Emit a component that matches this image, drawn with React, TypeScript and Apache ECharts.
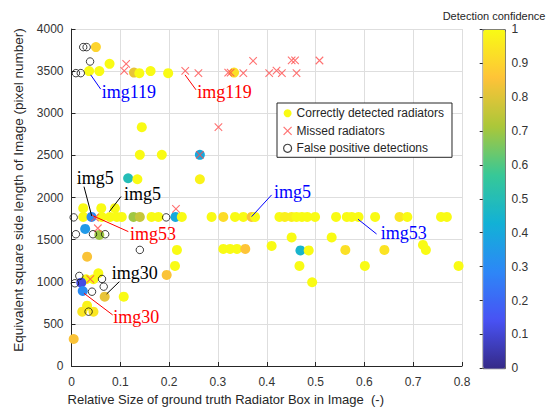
import React, { useEffect, useRef } from "react";
import * as echarts from "echarts";

// [relative size, side length, confidence]
const correctDetections: number[][] = [
  [0.050, 3785, 0.90], [0.036, 3500, 1.0], [0.057, 3500, 1.0], [0.078, 3587, 1.0],
  [0.128, 3483, 0.82], [0.139, 3476, 1.0], [0.162, 3500, 1.0], [0.198, 3476, 1.0],
  [0.333, 3483, 0.93], [0.144, 2835, 1.0], [0.140, 2506, 1.0], [0.185, 2506, 1.0],
  [0.263, 2506, 0.40], [0.263, 2217, 0.98], [0.116, 2229, 0.50], [0.135, 2217, 1.0],
  [0.024, 1873, 1.0], [0.061, 1873, 1.0], [0.089, 1873, 1.0],
  [0.024, 1770, 1.0], [0.041, 1770, 0.30], [0.062, 1770, 1.0], [0.079, 1770, 1.0],
  [0.093, 1770, 1.0], [0.103, 1770, 1.0], [0.127, 1770, 0.70], [0.140, 1770, 0.76],
  [0.164, 1770, 1.0], [0.178, 1770, 1.0], [0.213, 1770, 0.40], [0.226, 1770, 1.0],
  [0.287, 1770, 1.0], [0.311, 1770, 0.92], [0.335, 1770, 1.0], [0.352, 1770, 1.0],
  [0.369, 1770, 0.85], [0.376, 1770, 1.0], [0.426, 1770, 1.0], [0.437, 1770, 0.97],
  [0.451, 1770, 0.97], [0.461, 1770, 1.0], [0.472, 1770, 1.0], [0.483, 1770, 1.0],
  [0.499, 1770, 1.0], [0.542, 1770, 1.0], [0.564, 1770, 1.0], [0.574, 1770, 1.0],
  [0.588, 1770, 1.0], [0.622, 1770, 1.0], [0.672, 1770, 0.95], [0.688, 1770, 1.0],
  [0.757, 1770, 1.0], [0.769, 1770, 1.0],
  [0.028, 1627, 0.35], [0.057, 1556, 0.70], [0.451, 1526, 1.0], [0.533, 1526, 1.0],
  [0.216, 1378, 1.0], [0.311, 1390, 1.0], [0.325, 1390, 1.0], [0.339, 1390, 1.0],
  [0.356, 1390, 0.86], [0.410, 1425, 1.0], [0.469, 1372, 0.45], [0.486, 1372, 1.0],
  [0.561, 1378, 0.93], [0.641, 1378, 0.94], [0.720, 1437, 1.0], [0.726, 1378, 1.0],
  [0.212, 1188, 1.0], [0.467, 1188, 1.0], [0.601, 1188, 1.0], [0.793, 1188, 1.0],
  [0.493, 994, 1.0], [0.032, 1298, 0.85], [0.195, 1081, 0.85], [0.055, 1101, 1.0],
  [0.030, 1030, 1.0], [0.045, 1030, 1.0], [0.020, 989, 0.12], [0.023, 890, 0.30],
  [0.068, 823, 0.82], [0.107, 823, 1.0], [0.032, 716, 0.98], [0.022, 645, 0.95],
  [0.045, 645, 0.95], [0.0045, 321, 0.85],
];

const missedRadiators: number[][] = [
  [0.112, 3587], [0.108, 3503], [0.233, 3503], [0.260, 3476], [0.301, 2835],
  [0.321, 3483], [0.326, 3483], [0.352, 3476], [0.372, 3622], [0.405, 3476],
  [0.420, 3507], [0.431, 3476], [0.451, 3628], [0.458, 3628], [0.461, 3476],
  [0.508, 3626], [0.263, 2506], [0.214, 1865], [0.048, 1761], [0.054, 1635],
  [0.0385, 1030],
];

const falsePositives: number[][] = [
  [0.009, 3476], [0.019, 3476], [0.024, 3785], [0.031, 3785], [0.038, 3614],
  [0.0045, 1764], [0.194, 1764], [0.009, 1564], [0.044, 1564], [0.069, 1564],
  [0.140, 1378], [0.007, 982], [0.016, 1069], [0.042, 882], [0.0625, 1033],
  [0.066, 942], [0.035, 645],
];

const annotationTexts = ["img119", "img119", "img5", "img53", "img5", "img5", "img53", "img30", "img30"];
const annotationColors = ["#0000ff", "#ff0000", "#0000ff", "#0000ff", "#000000", "#000000", "#ff0000", "#000000", "#ff0000"];
const annotationTextAt: number[][] = [
  [0.0619, 3254], [0.2578, 3254], [0.415, 2060], [0.6336, 1576], [0.0107, 2229],
  [0.1076, 2043], [0.1199, 1568], [0.0824, 1101], [0.0857, 576],
];
const annotationLines: number[][][] = [
  [[0.0393, 3456], [0.0598, 3286]],
  [[0.2326, 3456], [0.2551, 3278]],
  [[0.410, 2031], [0.369, 1773]],
  [[0.587, 1742], [0.625, 1567]],
  [[0.0256, 2129], [0.0414, 1781]],
  [[0.1014, 2011], [0.0775, 1832]],
  [[0.0447, 1781], [0.1164, 1595]],
  [[0.098, 1001], [0.072, 855]],
  [[0.0256, 863], [0.0844, 606]],
];

const parula = ["#352a87", "#4852f4", "#2d87f7", "#12b1d6", "#37c897", "#abc739", "#fec338", "#f9fb14"];

const SANS = "Liberation Sans";
const AXIS = "#262626";
const X_PATH = "path://M0,0L10,10M10,0L0,10";

export default function App() {
  const ref = useRef<HTMLDivElement>(null);
  useEffect(() => {
    const chart = echarts.init(ref.current!, null, { renderer: "svg" });
    const option: any = {
      animation: false,
      backgroundColor: "#ffffff",
      title: {
        text: "Detection confidence",
        left: 494,
        top: 10,
        textAlign: "center",
        padding: 0,
        textStyle: { fontSize: 11, fontWeight: "normal", color: AXIS, fontFamily: SANS },
      },
      grid: [
        { left: 71.5, top: 29, width: 390.5, height: 337 },
        { left: 482.7, top: 29.3, width: 22.3, height: 339 },
      ],
      xAxis: [
        {
          gridIndex: 0,
          type: "value",
          min: 0,
          max: 0.8,
          interval: 0.1,
          name: "Relative Size of ground truth Radiator Box in Image  (-)",
          nameLocation: "middle",
          nameGap: 22,
          nameTextStyle: { fontSize: 13, color: AXIS, fontFamily: SANS, padding: [0, 82, 0, 0] },
          axisLine: { show: true, onZero: false, lineStyle: { color: AXIS, width: 1 } },
          axisTick: { show: true, inside: true, length: 4, lineStyle: { color: AXIS } },
          axisLabel: { margin: 10, fontSize: 12, color: "#333", fontFamily: SANS },
          splitLine: { show: true, lineStyle: { color: "#dedede", width: 1 } },
        },
        { gridIndex: 1, type: "value", min: 0, max: 1, show: false },
      ],
      yAxis: [
        {
          gridIndex: 0,
          type: "value",
          min: 0,
          max: 4000,
          interval: 500,
          name: "Equivalent square side length of Image (pixel number)",
          nameLocation: "middle",
          nameGap: 40,
          nameTextStyle: { fontSize: 13.5, color: AXIS, fontFamily: SANS, padding: [0, 0, 0, 15] },
          axisLine: { show: true, onZero: false, lineStyle: { color: AXIS, width: 1 } },
          axisTick: { show: true, inside: true, length: 4, lineStyle: { color: AXIS } },
          axisLabel: {
            margin: 8,
            fontSize: 12,
            color: "#333",
            fontFamily: SANS,
            formatter: (v: number) => String(v),
          },
          splitLine: { show: true, lineStyle: { color: "#dedede", width: 1 } },
        },
        {
          gridIndex: 1,
          type: "value",
          min: 0,
          max: 1,
          interval: 0.1,
          position: "right",
          z: 10,
          axisLine: { show: false },
          axisTick: { show: true, inside: true, length: 3, lineStyle: { color: AXIS } },
          axisLabel: {
            margin: 6.5,
            fontSize: 12,
            color: "#333",
            fontFamily: SANS,
            formatter: (v: number) => (v === 0 ? "0" : v === 1 ? "1" : v.toFixed(1)),
          },
          splitLine: { show: false },
        },
      ],
      visualMap: {
        type: "continuous",
        min: 0,
        max: 1,
        seriesIndex: 0,
        dimension: 2,
        calculable: false,
        left: 482.7,
        top: 29.3,
        itemWidth: 22.3,
        itemHeight: 339,
        padding: 0,
        borderColor: AXIS,
        borderWidth: 0.8,
        inRange: { color: parula },
      },
      legend: {
        left: 277,
        top: 103,
        orient: "vertical",
        selectedMode: false,
        padding: [3.3, 8, 2, 6],
        itemGap: 3.5,
        itemWidth: 8,
        itemHeight: 8,
        borderColor: AXIS,
        borderWidth: 1,
        backgroundColor: "#ffffff",
        textStyle: { fontSize: 12, color: AXIS, fontFamily: SANS, lineHeight: 14 },
        data: [
          { name: "Correctly detected radiators", icon: "circle", itemStyle: { color: "#f9fb14" } },
          {
            name: "Missed radiators",
            icon: X_PATH,
            itemStyle: { color: "transparent", borderColor: "#ff4d4d", borderWidth: 1.2 },
          },
          {
            name: "False positive detections",
            icon: "circle",
            itemStyle: { color: "transparent", borderColor: "#111", borderWidth: 1.2 },
          },
        ],
        z: 20,
      },
      series: [
        {
          name: "Correctly detected radiators",
          type: "scatter",
          data: correctDetections,
          symbol: "circle",
          symbolSize: 10,
          itemStyle: { opacity: 1 },
          z: 2,
        },
        {
          name: "Missed radiators",
          type: "scatter",
          data: missedRadiators,
          symbol: X_PATH,
          symbolSize: 7.5,
          itemStyle: { color: "transparent", borderColor: "#ff4d4d", borderWidth: 1.1 },
          z: 3,
        },
        {
          name: "False positive detections",
          type: "scatter",
          data: falsePositives,
          symbol: "circle",
          symbolSize: 7.5,
          itemStyle: { color: "transparent", borderColor: "#111", borderWidth: 1 },
          z: 4,
        },
        {
          name: "leaders",
          type: "lines",
          coordinateSystem: "cartesian2d",
          silent: true,
          z: 5,
          data: annotationLines.map((c, i) => ({
            coords: c,
            lineStyle: { color: annotationColors[i], width: 1, opacity: 1 },
          })),
        },
        {
          name: "annotations",
          type: "scatter",
          silent: true,
          symbolSize: 0,
          z: 6,
          itemStyle: { opacity: 1 },
          data: annotationTexts.map((t, i) => ({
            value: annotationTextAt[i],
            label: {
              show: true,
              position: "right",
              distance: 0,
              formatter: t,
              color: annotationColors[i],
              opacity: 1,
              textBorderWidth: 0,
              fontFamily: "Liberation Serif",
              fontSize: 18,
            },
          })),
        },
      ],
    };
    chart.setOption(option);
    return () => chart.dispose();
  }, []);
  return (
    <div
      ref={ref}
      style={{ position: "fixed", left: 0, top: 0, width: 557, height: 412, background: "#fff" }}
    />
  );
}
